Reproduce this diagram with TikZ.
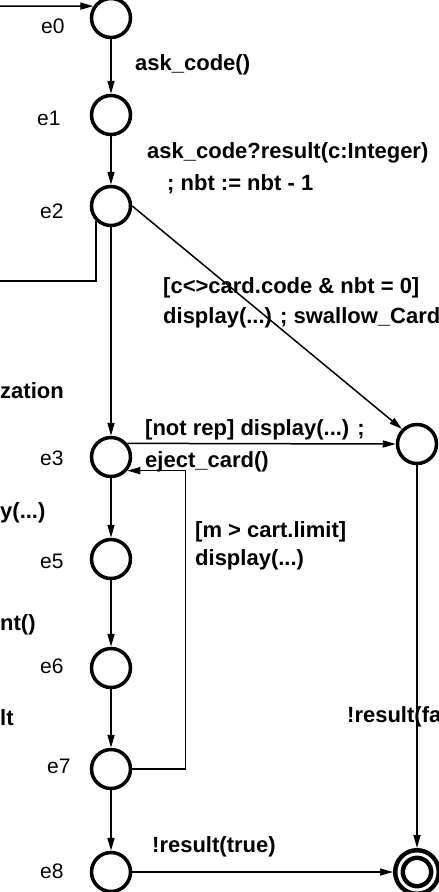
\documentclass[tikz,border=0pt]{standalone}
\usepackage{fontspec}
\setmainfont{Liberation Sans}
\usetikzlibrary{arrows.meta}

\begin{document}
\begin{tikzpicture}[x=1pt, y=-1pt,
    state/.style={circle, draw, line width=3.5pt, minimum size=39pt, inner sep=0pt},
    final/.style={circle, draw, line width=4.5pt, double, double distance=3pt,
                  minimum size=36pt, inner sep=0pt, outer sep=6pt},
    wire/.style={line width=1.5pt},
    trans/.style={wire, -{Triangle[length=13pt, width=7pt]}},
    lbl/.style={anchor=base west, inner sep=0pt, font=\fontsize{22}{26}\selectfont\bfseries},
    sname/.style={anchor=base west, inner sep=0pt, font=\fontsize{21}{25}\selectfont}]
    \useasboundingbox (0,0) rectangle (439,892);
    \clip (0,0) rectangle (439,892);

    % 状态
    \foreach \n/\y in {0/18, 1/115, 2/206, 3/457, 5/559, 6/668, 7/769, 8/872} {
        \node[state] (e\n) at (111,\y) {};
    }
    \node[state] (fail) at (417,444) {};
    \node[final] (acc) at (417,872) {};

    % 状态名
    \foreach \n/\x/\y in {0/41/33, 1/37/125, 2/40/218, 3/40/465, 5/40/568, 6/40/673, 7/47/773, 8/40/878} {
        \node[sname] (l\n) at (\x,\y) {e\n};
    }

    % 转移标签
    \node[lbl] (t01) at (135,70) {ask\_code()};
    \node[lbl] (t12a) at (147,158) {ask\_code?result(c:Integer)};
    \node[lbl] (t12b) at (167,190) {; nbt := nbt - 1};
    \node[lbl] (t2fa) at (163,293) {[c<>card.code \& nbt = 0]};
    \node[lbl] (t2fb) at (163,323) {display(...) ; swallow\_Card()};
    \node[lbl] (t3fa) at (145,435) {[not rep] display(...) ;};
    \node[lbl] (t3fb) at (145,467) {eject\_card()};
    \node[lbl] (t73a) at (195,537) {[m > cart.limit]};
    \node[lbl] (t73b) at (195,565) {display(...)};
    \node[lbl] (tfacc) at (347,722) {!result(false)};
    \node[lbl] (t8acc) at (152,852) {!result(true)};

    % 左边被截断的标签
    \node[lbl] (x1) at (0,398) {zation};
    \node[lbl] (x2) at (0,518) {y(...)};
    \node[lbl] (x3) at (0,630) {nt()};
    \node[lbl] (x4) at (0,725) {lt};

    % 转移
    \coordinate (in0) at (0,6);
    \coordinate (out2) at (0,281);
    \draw[trans] (in0) -- (e0.146);
    \foreach \a/\b in {e0/e1, e1/e2, e2/e3, e3/e5, e5/e6, e6/e7, e7/e8} {
        \draw[trans] (\a) -- (\b);
    }
    \draw[wire] (e2.226) |- (out2);
    \draw[trans] (e2.east) -- (fail.135);
    \draw[trans] (e3.40) -- (fail.west);
    \draw[trans] (e7.east) -- ++(53,0) |- (e3.-40);
    \draw[trans] (fail) -- (acc);
    \draw[trans] (e8) -- (acc);
\end{tikzpicture}
\end{document}
